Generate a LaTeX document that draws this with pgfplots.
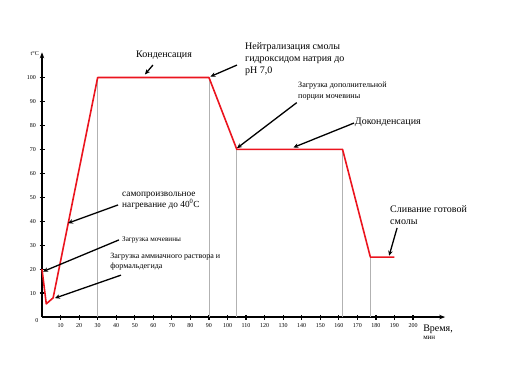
\documentclass[border=0pt]{standalone}
\usepackage{pgfplots}
\pgfplotsset{compat=1.18}
\usepackage{fontspec}
\setmainfont{Liberation Serif}
\usetikzlibrary{arrows.meta}
\definecolor{curve}{RGB}{235,20,30}
\begin{document}
\begin{tikzpicture}
\begin{axis}[
  x=1.855pt, y=2.395pt,
  xmin=0, xmax=217.3, ymin=0, ymax=110.5,
  axis lines=left,
  axis line style={line width=1.3pt, -{Stealth[length=6pt,width=4.5pt]}},
  xtick={10,20,...,200}, ytick={10,20,...,100},
  tick align=center, major tick length=5pt,
  tick style={line width=1.2pt, black},
  ticklabel style={font=\fontsize{6}{7}\selectfont},
  /pgf/number format/assume math mode=true,
  clip=false,
  every node/.append style={font=\fontsize{9}{11.2}\selectfont},
]
% invisible page frame (pixels 0..511 x 0..379)
\path (axis cs:-22.64,-25.89) rectangle (axis cs:252.8,132.36);
\addplot[gray!60, line width=0.8pt, ycomb, mark=none] coordinates {(30,100) (90,100) (105,70) (162,70) (177,25)};
\addplot[curve, line width=1.6pt, line join=round, mark=none] coordinates {
  (0,20) (2.3,5.5) (6,8) (30,100) (90,100) (105,70) (162,70) (177,25) (190,25)};
\node[font=\fontsize{6}{7}\selectfont] at (axis cs:-2.7,-1.3) {0};
\node[anchor=east, font=\fontsize{6}{7}\selectfont, inner sep=1pt] at (axis cs:-1.1,110.2) {t°C};
\node[anchor=west, inner sep=0pt, font=\fontsize{10}{11}\selectfont] at (axis cs:205.4,-5.1) {Время,};
\node[anchor=west, inner sep=0pt, font=\fontsize{7}{8}\selectfont] at (axis cs:205.4,-8.6) {мин};
\tikzset{ann/.style={black, line width=1.3pt, -{Stealth[length=5pt,width=4.5pt]}}}
% Конденсация
\node[inner sep=0pt] at (axis cs:65.8,109.4) {Конденсация};
\draw[ann] (axis cs:59.8,105.2) -- (axis cs:55.5,101.3);
% Нейтрализация
\node[anchor=north west, align=left, inner sep=0pt] at (axis cs:109.4,114.6) {Нейтрализация смолы\\гидроксидом натрия до\\pH 7,0};
\draw[ann] (axis cs:105.1,105.2) -- (axis cs:90.8,100.4);
% Загрузка дополнительной
\node[anchor=north west, align=left, inner sep=0pt, font=\fontsize{8.1}{10.7}\selectfont] at (axis cs:138,98.2) {Загрузка дополнительной\\порции мочевины};
\draw[ann] (axis cs:137.3,89.5) -- (axis cs:105.1,70.5);
% Доконденсация
\node[anchor=west, inner sep=0pt] at (axis cs:168.6,81.5) {Доконденсация};
\draw[ann] (axis cs:168.2,81.0) -- (axis cs:135.5,70.8);
% Сливание
\node[anchor=north west, align=left, inner sep=0pt] at (axis cs:187.6,46.6) {Сливание готовой\\смолы};
\draw[ann] (axis cs:191.4,37.2) -- (axis cs:187.1,25.6);
% самопроизвольное
\node[anchor=north west, align=left, inner sep=0pt, font=\fontsize{9.3}{11}\selectfont] at (axis cs:43.1,52.2) {самопроизвольное\\нагревание до 40\textsuperscript{0}С};
\draw[ann] (axis cs:41,46.8) -- (axis cs:14,39.2);
% Загрузка мочевины
\node[anchor=west, inner sep=0pt, font=\fontsize{7.2}{9}\selectfont] at (axis cs:43.1,32.2) {Загрузка мочевины};
\draw[ann] (axis cs:41.5,32.2) -- (axis cs:0.6,19);
% Загрузка аммиачного
\node[anchor=north west, align=left, inner sep=0pt, font=\fontsize{8}{10}\selectfont] at (axis cs:36.7,26.9) {Загрузка аммиачного раствора и\\формальдегида};
\draw[ann] (axis cs:42.6,17.5) -- (axis cs:7,7.9);
\end{axis}
\end{tikzpicture}
\end{document}
